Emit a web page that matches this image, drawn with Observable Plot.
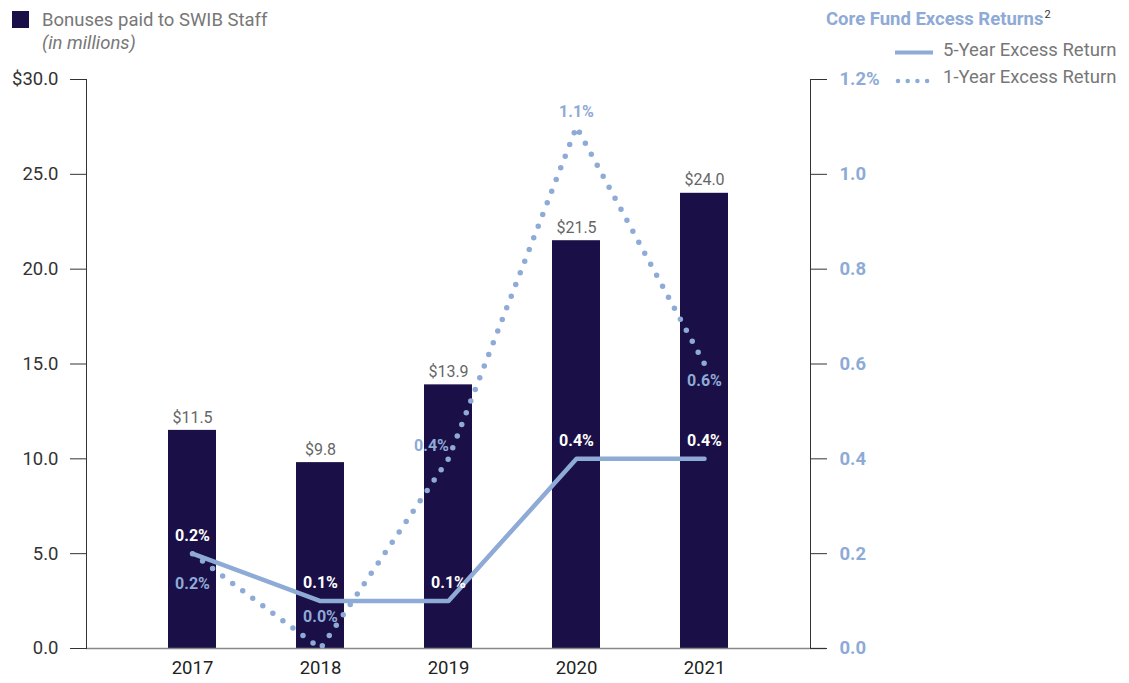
<!DOCTYPE html>
<html>
<head>
<meta charset="utf-8">
<script src="https://cdn.jsdelivr.net/npm/d3@7"></script>
<script src="https://cdn.jsdelivr.net/npm/@observablehq/plot@0.6"></script>
<style>
  body { margin: 0; background: #fff; font-family: Roboto, sans-serif; }
  #wrap { position: relative; width: 1129px; height: 683px; }
  #chart { position: absolute; left: 0; top: 0; }
  .lg { position: absolute; font-size: 18.5px; color: #777; white-space: nowrap; line-height: 1; }
</style>
</head>
<body>
<div id="wrap">
  <div id="chart"></div>
  <div style="position:absolute;left:12px;top:11px;width:17px;height:17px;background:#1a0f46"></div>
  <div class="lg" style="left:42px;top:11px;">Bonuses paid to SWIB Staff</div>
  <div class="lg" style="left:42px;top:34px;font-style:italic;">(in millions)</div>
  <div class="lg" style="left:826px;top:9px;color:#8eaad6;font-weight:bold;">Core Fund Excess Returns<sup style="color:#333;font-weight:normal;font-size:11px;vertical-align:7px;margin-left:1px;">2</sup></div>
  <svg style="position:absolute;left:890px;top:40px" width="50" height="50">
    <line x1="5" x2="43" y1="12.5" y2="12.5" stroke="#8eaad6" stroke-width="4"/>
    <line x1="8" x2="40" y1="41" y2="41" stroke="#8eaad6" stroke-width="4.5" stroke-linecap="round" stroke-dasharray="0 9.7"/>
  </svg>
  <div class="lg" style="left:943px;top:41px;">5-Year Excess Return</div>
  <div class="lg" style="left:943px;top:68px;">1-Year Excess Return</div>
</div>
<script>
const years = ["2017", "2018", "2019", "2020", "2021"];
const bonuses = [11.5, 9.8, 13.9, 21.5, 24.0];
const fiveYear = [0.2, 0.1, 0.1, 0.4, 0.4];
const oneYear = [0.2, 0.0, 0.4, 1.1, 0.6];
const leftTicks = [0, 5, 10, 15, 20, 25, 30];
const rightTicks = [0, 0.2, 0.4, 0.6, 0.8, 1.0, 1.2];

const leftMax = 30, rightMax = 1.2;
const k = leftMax / rightMax;

const navy = "#1a0f46";
const blue = "#8eaad6";

const data = years.map((y, i) => ({
  year: y, bonus: bonuses[i], five: fiveYear[i], one: oneYear[i]
}));

const pct = v => v.toFixed(1) + "%";

const chart = Plot.plot({
  width: 1129,
  height: 683,
  marginLeft: 86,
  marginRight: 319,
  marginTop: 79,
  marginBottom: 35,
  style: { fontFamily: "Roboto, sans-serif", fontSize: "18.5px", color: "#333", background: "transparent" },
  x: { type: "band", domain: years, paddingInner: 0.628, paddingOuter: 0.624, label: null },
  y: { domain: [0, leftMax], label: null },
  marks: [
    Plot.barY(data, { x: "year", y: "bonus", fill: navy }),
    Plot.ruleY([0], { stroke: "#888", strokeWidth: 1.5, insetRight: -16 }),
    Plot.frame({ anchor: "left", stroke: "#333" }),
    Plot.frame({ anchor: "right", stroke: "#333" }),
    Plot.axisY(leftTicks, {
      anchor: "left", tickSize: 16, tickPadding: 12, fontSize: 18.5,
      stroke: "#333", fill: "#333",
      tickFormat: d => d === leftMax ? "$" + d.toFixed(1) : d.toFixed(1),
      label: null
    }),
    Plot.axisY(rightTicks.map(d => d * k), {
      anchor: "right", tickSize: 16, tickPadding: 13, fontSize: 18.5, fontWeight: "bold",
      stroke: "#333", fill: blue,
      tickFormat: d => { const v = d / k; return Math.abs(v - rightMax) < 1e-9 ? v.toFixed(1) + "%" : v.toFixed(1); },
      label: null
    }),
    Plot.axisX({ tickSize: 0, tickPadding: 12, fontSize: 18.5, fill: "#222", label: null }),
    Plot.lineY(data, { x: "year", y: d => d.five * k, stroke: blue, strokeWidth: 4.5 }),
    Plot.lineY(data, { x: "year", y: d => d.one * k, stroke: blue, strokeWidth: 5.5, strokeLinecap: "round", strokeDasharray: "0 12.5" }),
    Plot.text(data, { x: "year", y: "bonus", text: d => "$" + d.bonus.toFixed(1), dy: -13, fill: "#666", fontSize: 16 }),
    Plot.text(data, { x: "year", y: d => d.five * k, text: d => pct(d.five), dy: -18, fill: "#fff", fontSize: 16, fontWeight: "bold" }),
    Plot.text(data.filter(d => d.year === "2017"), { x: "year", y: d => d.one * k, text: d => pct(d.one), dy: 30, fill: blue, fontSize: 16, fontWeight: "bold" }),
    Plot.text(data.filter(d => d.year === "2018"), { x: "year", y: d => d.one * k, text: d => pct(d.one), dy: -32, fill: blue, fontSize: 16, fontWeight: "bold" }),
    Plot.text(data.filter(d => d.year === "2019"), { x: "year", y: d => d.one * k, text: d => pct(d.one), dx: -17, dy: -13, fill: blue, fontSize: 16, fontWeight: "bold" }),
    Plot.text(data.filter(d => d.year === "2020"), { x: "year", y: d => d.one * k, text: d => pct(d.one), dy: -15, fill: blue, fontSize: 16, fontWeight: "bold" }),
    Plot.text(data.filter(d => d.year === "2021"), { x: "year", y: d => d.one * k, text: d => pct(d.one), dy: 17, fill: blue, fontSize: 16, fontWeight: "bold" })
  ]
});
document.getElementById("chart").appendChild(chart);
</script>
</body>
</html>
